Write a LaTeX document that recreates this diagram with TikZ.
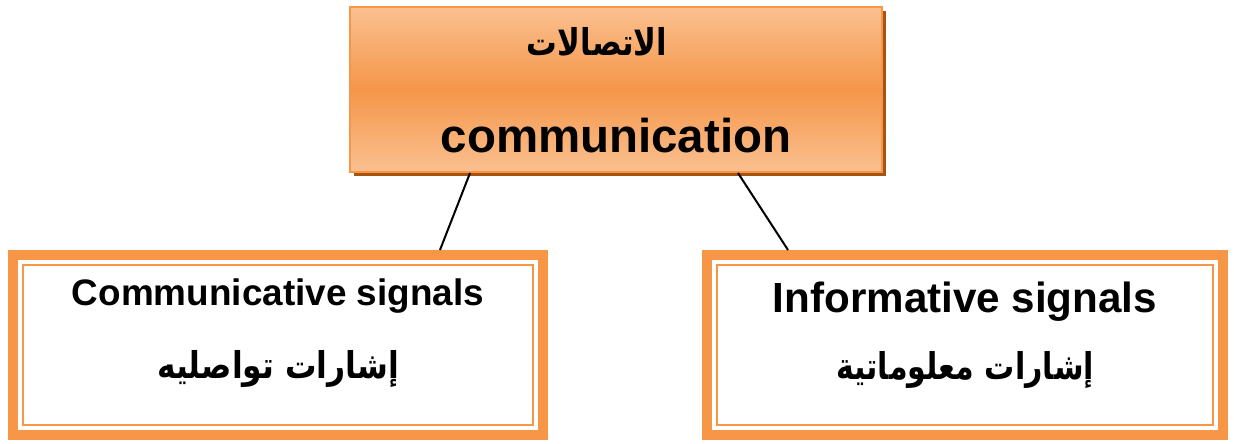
\documentclass[tikz,border=0pt]{standalone}
\usepackage{graphicx}
\usepackage{fontspec}
\setmainfont{Liberation Sans}
\newfontfamily\arabicfont[Script=Arabic]{DejaVu Sans}
\TeXXeTstate=1
\usetikzlibrary{calc,shadows}
\definecolor{OfficeOrange}{HTML}{F79646}
\definecolor{PaleOrange}{HTML}{FAC090}
\definecolor{MidOrange}{HTML}{F5964A}
\definecolor{ShadowBrown}{HTML}{A85410}

\begin{document}
\begin{tikzpicture}[x=0.02cm,y=-0.02cm,
    topbox/.style={draw=OfficeOrange,line width=0.04cm,
      top color=PaleOrange,bottom color=PaleOrange,middle color=MidOrange,
      drop shadow={shadow xshift=0.08cm,shadow yshift=-0.08cm,fill=ShadowBrown,opacity=1}},
    leafbox/.style={draw=OfficeOrange,line width=0.2cm,fill=white},
    enlabel/.style={anchor=base,inner sep=0pt,font=\bfseries},
    arlabel/.style={anchor=base,inner sep=0pt,font=\arabicfont\bfseries\fontsize{21}{24}\selectfont},
    link/.style={draw=black,line width=0.04cm}]
  \useasboundingbox[fill=white] (0,0) rectangle (1234,443);
  % top box
  \node[topbox,minimum width=10.64cm,minimum height=3.3cm] (comm) at (616,89.5) {};
  \node[arlabel] (commar) at (597,55) {\scalebox{0.83}[1]{\beginR الاتصالات\endR}};
  \node[enlabel,font=\bfseries\fontsize{27}{32}\selectfont] (commen) at (616,152) {communication};
  % two kinds of signals
  \foreach \nm/\cx/\bw/\enb/\en/\ensz/\arb/\arsc/\ar in {
    comsig/278/10.6/305/{Communicative signals}/21/378/0.85/{إشارات تواصليه},
    infsig/965/10.32/312/{Informative signals}/24/379/0.815/{إشارات معلوماتية}}
  {
    \node[leafbox,minimum width=\bw cm,minimum height=3.6cm] (\nm) at (\cx,345) {};
    \draw[OfficeOrange,line width=0.04cm] ($(\nm.south west)+(14.5,-14.5)$) rectangle ($(\nm.north east)+(-14.5,14.5)$);
    \node[enlabel,font=\bfseries\fontsize{\ensz}{\ensz}\selectfont] (\nm en) at (\cx,\enb) {\en};
    \node[arlabel] (\nm ar) at (\cx,\arb) {\scalebox{\arsc}[1]{\beginR \ar\endR}};
  }
  \draw[link] ([xshift=-2.92cm]comm.south) -- ([xshift=3.24cm]comsig.north);
  \draw[link] ([xshift=2.44cm]comm.south) -- ([xshift=-3.54cm]infsig.north);
\end{tikzpicture}
\end{document}
